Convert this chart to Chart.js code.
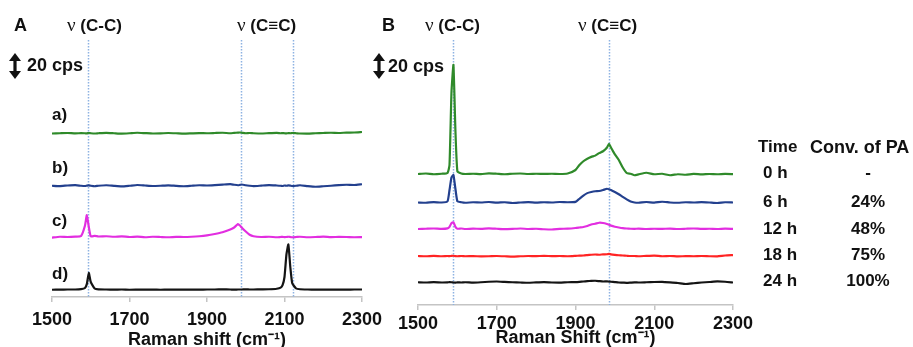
<!DOCTYPE html>
<html>
<head>
<meta charset="utf-8">
<script src="https://cdn.jsdelivr.net/npm/chart.js@4"></script>
<style>
  html, body { margin: 0; padding: 0; background: #fff; }
  #wrap { position: relative; width: 913px; height: 347px; overflow: hidden; font-family: "Liberation Sans", Arial, sans-serif; color: #111; }
  canvas { position: absolute; top: 0; }
  .t { position: absolute; font-weight: bold; font-size: 17px; line-height: 18px; white-space: nowrap; }
  .nu { font-family: "Liberation Serif", serif; font-weight: normal; font-size: 19px; }
  .c { text-align: center; width: 70px; }
  svg { position: absolute; }
</style>
</head>
<body>
<div id="wrap">
  <canvas id="chartA" width="400" height="347" style="left:0"></canvas>
  <canvas id="chartB" width="390" height="347" style="left:385px"></canvas>

  <div class="t" style="left:14px;top:16px;font-size:18px">A</div>
  <div class="t" style="left:67px;top:16px"><span class="nu">ν</span> (C-C)</div>
  <div class="t" style="left:237px;top:16px"><span class="nu">ν</span> (C≡C)</div>
  <svg style="left:9px;top:53px" width="12" height="26"><polygon points="6,0 12,8 7.6,8 7.6,18 12,18 6,26 0,18 4.4,18 4.4,8 0,8" fill="#111"/></svg>
  <div class="t" style="left:27px;top:56px;font-size:18px">20 cps</div>
  <div class="t" style="left:52px;top:106px">a)</div>
  <div class="t" style="left:52px;top:159px">b)</div>
  <div class="t" style="left:52px;top:212px">c)</div>
  <div class="t" style="left:52px;top:265px">d)</div>

  <div class="t" style="left:382px;top:16px;font-size:18px">B</div>
  <div class="t" style="left:425px;top:16px"><span class="nu">ν</span> (C-C)</div>
  <div class="t" style="left:578px;top:16px"><span class="nu">ν</span> (C≡C)</div>
  <svg style="left:373px;top:53px" width="12" height="26"><polygon points="6,0 12,8 7.6,8 7.6,18 12,18 6,26 0,18 4.4,18 4.4,8 0,8" fill="#111"/></svg>
  <div class="t" style="left:388px;top:57px;font-size:18px">20 cps</div>

  <div id="legend"></div>
</div>
<script>
const FONT = '"Liberation Sans", Arial, sans-serif';

// ---- Panel A: reference spectra a) - d), offset in cps ----
const shiftA = [
  1500, 1520, 1540, 1560, 1575, 1585, 1590, 1595, 1600, 1610, 1620,
  1640, 1660, 1680, 1700, 1720, 1740, 1760, 1780, 1800, 1820, 1840,
  1860, 1880, 1900, 1920, 1940, 1960, 1970, 1980, 1985, 1990, 2000,
  2010, 2020, 2040, 2060, 2080, 2090, 2095, 2100, 2105, 2110, 2115,
  2120, 2130, 2140, 2160, 2180, 2200, 2220, 2240, 2260, 2280, 2300,
];
const specA_a = [
  130.8, 131.0, 131.2, 130.9, 131.1, 131.0, 130.9, 131.2, 131.0, 130.8, 131.0,
  131.3, 131.0, 130.7, 131.0, 131.4, 131.1, 130.8, 130.9, 131.2, 131.0, 130.7,
  130.9, 131.1, 131.0, 131.2, 131.4, 131.0, 131.3, 131.5, 131.6, 131.4, 131.0,
  131.2, 131.0, 130.8, 131.1, 131.3, 131.0, 131.1, 131.0, 130.9, 131.1, 131.0,
  131.2, 131.0, 130.8, 130.7, 131.0, 131.2, 131.4, 131.2, 131.5, 131.6, 132.0,
];
const specA_b = [
  89.0, 88.7, 89.2, 89.5, 89.0, 88.8, 89.1, 89.3, 89.0, 88.6, 89.0,
  89.4, 88.9, 88.5, 89.0, 89.6, 89.2, 88.8, 89.0, 89.3, 88.9, 88.6,
  89.0, 89.4, 89.2, 89.5, 89.9, 90.3, 89.8, 89.4, 89.7, 90.0, 89.4,
  89.0, 88.7, 89.1, 89.5, 89.2, 89.0, 88.8, 89.2, 89.0, 89.3, 89.1,
  88.8, 89.0, 89.4, 88.7, 88.2, 88.6, 89.0, 89.5, 89.8, 89.6, 90.2,
];
const specA_c = [
  47.5, 48.2, 48.0, 48.3, 48.8, 57.0, 65.6, 56.0, 48.5, 48.9, 48.4,
  48.6, 48.2, 48.5, 48.0, 48.3, 47.8, 48.2, 48.0, 47.8, 48.1, 48.0,
  48.2, 48.6, 49.3, 50.4, 51.8, 54.0, 55.6, 58.4, 57.2, 55.4, 52.4,
  49.8, 48.6, 48.0, 48.2, 47.8, 48.0, 48.1, 47.9, 48.0, 48.2, 48.0,
  47.8, 48.0, 48.2, 47.8, 48.0, 48.3, 47.9, 48.1, 48.0, 47.8, 47.9,
];
const specA_d = [
  5.8, 5.9, 6.0, 6.0, 6.3, 7.2, 10.5, 19.2, 12.0, 6.8, 6.1,
  6.0, 5.9, 6.0, 5.8, 5.9, 6.0, 5.9, 5.8, 5.9, 6.0, 5.9,
  6.0, 5.9, 6.0, 6.0, 6.1, 6.0, 5.9, 6.0, 6.0, 6.0, 6.1,
  6.0, 6.0, 6.1, 6.2, 6.6, 7.5, 9.5, 16.0, 34.0, 42.0, 24.0,
  11.0, 6.8, 6.2, 6.0, 5.9, 6.0, 5.9, 6.0, 5.9, 6.0, 6.0,
];
const bandsA = [1593, 1989, 2121];

// ---- Panel B: spectra vs reaction time ----
const shiftB = [
  1500, 1520, 1540, 1560, 1575, 1580, 1585, 1590, 1595, 1600, 1610,
  1620, 1640, 1660, 1680, 1700, 1720, 1740, 1760, 1780, 1800, 1820,
  1840, 1860, 1880, 1900, 1910, 1920, 1930, 1940, 1950, 1960, 1970,
  1980, 1985, 1990, 2000, 2010, 2020, 2030, 2040, 2050, 2060, 2080,
  2100, 2120, 2140, 2160, 2180, 2200, 2220, 2240, 2260, 2280, 2300,
];
const specB_0h = [
  104.8, 105.2, 104.6, 105.0, 105.6, 112.0, 170.0, 192.0, 140.0, 107.0, 105.2,
  104.8, 105.0, 104.7, 105.3, 105.0, 104.6, 105.0, 105.2, 104.8, 105.0, 104.9,
  105.0, 104.8, 105.2, 108.0, 112.0, 115.0, 117.0, 118.5, 119.5, 121.5, 123.0,
  126.0, 129.0, 126.0, 120.5, 116.0, 110.0, 105.6, 105.0, 103.8, 104.5, 105.8,
  104.6, 105.0, 103.8, 104.6, 104.2, 104.9, 104.5, 104.8, 104.6, 104.9, 104.7,
];
const specB_6h = [
  82.0, 81.8, 82.3, 82.0, 83.0, 92.0, 102.0, 104.0, 93.0, 83.0, 82.2,
  81.8, 82.2, 82.0, 82.4, 81.9, 82.2, 81.6, 82.0, 82.3, 81.9, 82.2,
  82.0, 82.4, 82.2, 82.5, 85.0, 87.5, 89.5, 90.4, 91.0, 91.2, 92.0,
  93.0, 92.6, 92.0, 90.4, 88.6, 86.5, 84.5, 82.8, 82.0, 81.8, 82.4,
  81.9, 82.6, 82.0, 81.8, 82.2, 82.0, 82.3, 82.0, 81.6, 82.2, 82.0,
];
const specB_12h = [
  60.8, 61.0, 61.2, 60.9, 61.3, 62.5, 65.5, 66.2, 62.5, 61.0, 61.2,
  60.8, 61.1, 60.9, 61.3, 61.0, 60.7, 60.9, 61.2, 60.8, 61.0, 60.6,
  60.4, 60.9, 61.1, 61.6, 62.0, 62.4, 63.2, 64.4, 65.0, 65.8, 65.6,
  64.8, 64.2, 63.5, 62.6, 62.0, 61.5, 61.2, 61.0, 60.9, 61.1, 60.8,
  61.0, 60.9, 61.1, 60.8, 61.0, 61.2, 60.9, 61.0, 60.8, 61.1, 60.9,
];
const specB_18h = [
  39.2, 39.0, 39.3, 39.0, 39.2, 39.1, 39.3, 39.4, 39.1, 39.0, 39.2,
  39.0, 39.1, 38.9, 39.0, 39.2, 39.0, 38.7, 39.0, 39.2, 39.1, 39.3,
  39.1, 39.2, 39.0, 39.3, 39.5, 39.6, 39.9, 40.2, 40.4, 40.2, 40.5,
  40.6, 40.9, 40.5, 40.1, 39.8, 39.6, 39.4, 39.2, 39.2, 39.0, 39.3,
  39.5, 39.0, 39.2, 38.9, 39.1, 39.0, 39.2, 39.0, 38.9, 39.6, 39.9,
];
const specB_24h = [
  18.2, 18.0, 18.3, 18.0, 18.1, 18.3, 18.2, 18.0, 17.9, 18.1, 18.0,
  18.2, 17.9, 18.2, 18.6, 18.8, 18.5, 18.2, 18.0, 17.8, 18.1, 18.3,
  18.0, 17.9, 18.2, 18.3, 18.5, 18.8, 19.1, 19.3, 19.4, 19.1, 18.8,
  18.9, 18.7, 18.6, 18.3, 18.0, 17.9, 17.7, 17.9, 18.1, 18.0, 18.2,
  18.4, 18.5, 18.1, 17.6, 16.8, 17.4, 18.0, 18.4, 18.9, 18.6, 18.0,
];
const bandsB = [1589, 1985];

const times       = ['0 h', '6 h', '12 h', '18 h', '24 h'];
const conversions = ['-', '24%', '48%', '75%', '100%'];
const xTicks      = [1500, 1700, 1900, 2100, 2300];

const GREEN = '#2f8a2a', NAVY = '#23408e', MAGENTA = '#e22ee0', RED = '#ff2424', BLACK = '#141414';

// dotted vertical band markers, placed through the x scale
const bandLines = {
  id: 'bandLines',
  beforeDatasetsDraw(chart, args, opts) {
    const { ctx, chartArea, scales } = chart;
    ctx.save();
    ctx.strokeStyle = '#8db2e2';
    ctx.lineWidth = 1.5;
    ctx.setLineDash([1.5, 1.5]);
    opts.values.forEach(v => {
      const px = Math.round(scales.x.getPixelForValue(v)) + 0.5;
      ctx.beginPath();
      ctx.moveTo(px, chartArea.top);
      ctx.lineTo(px, chartArea.bottom);
      ctx.stroke();
    });
    ctx.restore();
  }
};

function series(xs, ys, color) {
  return {
    data: xs.map((x, i) => ({ x, y: ys[i] })),
    borderColor: color,
    borderWidth: 2.2,
    pointRadius: 0,
    tension: 0.15,
    fill: false,
  };
}

function makeChart(id, datasets, bands, opt) {
  return new Chart(document.getElementById(id), {
    type: 'line',
    data: { datasets },
    plugins: [bandLines],
    options: {
      responsive: false,
      animation: false,
      devicePixelRatio: 1,
      layout: { padding: opt.padding },
      plugins: {
        legend: { display: false },
        tooltip: { enabled: false },
        bandLines: { values: bands },
      },
      scales: {
        x: {
          type: 'linear',
          min: 1500,
          max: 2300,
          afterBuildTicks: s => { s.ticks = xTicks.map(v => ({ value: v })); },
          afterFit: s => { s.height = opt.axisH; },
          ticks: {
            color: '#111',
            padding: opt.tickPad,
            maxRotation: 0,
            font: { family: FONT, size: 18, weight: 'bold', lineHeight: 1 },
            callback: v => String(v),
          },
          grid: { drawOnChartArea: false, drawTicks: true, tickLength: 5, color: '#c4c4c4', lineWidth: 1.5 },
          border: { color: '#c4c4c4', width: 1.5 },
          title: {
            display: true,
            text: opt.title,
            color: '#111',
            font: { family: FONT, size: 18, weight: 'bold', lineHeight: opt.titleLH },
            padding: { top: 0, bottom: 0 },
          },
        },
        y: { display: false, min: 0, max: opt.ymax },
      },
    },
  });
}

makeChart('chartA', [
  series(shiftA, specA_a, GREEN),
  series(shiftA, specA_b, NAVY),
  series(shiftA, specA_c, MAGENTA),
  series(shiftA, specA_d, BLACK),
], bandsA, {
  padding: { left: 52, right: 38, top: 40, bottom: 0 },
  axisH: 50, tickPad: 9, titleLH: 0.8, ymax: 205.6,
  title: 'Raman shift (cm⁻¹)',
});

makeChart('chartB', [
  series(shiftB, specB_0h, GREEN),
  series(shiftB, specB_6h, NAVY),
  series(shiftB, specB_12h, MAGENTA),
  series(shiftB, specB_18h, RED),
  series(shiftB, specB_24h, BLACK),
], bandsB, {
  padding: { left: 33, right: 42, top: 40, bottom: 0 },
  axisH: 42, tickPad: 5, titleLH: 1.05, ymax: 212,
  title: 'Raman Shift (cm⁻¹)',
});

// time / conversion table on the right
const legend = document.getElementById('legend');
const rowY = [173, 202, 229, 255, 281];
let html = '<div class="t" style="left:758px;top:138px">Time</div>' +
           '<div class="t" style="left:810px;top:138px;font-size:18px">Conv. of PA</div>';
times.forEach((t, i) => {
  html += `<div class="t" style="left:763px;top:${rowY[i] - 9}px">${t}</div>`;
  html += `<div class="t c" style="left:833px;top:${rowY[i] - 9}px">${conversions[i]}</div>`;
});
legend.innerHTML = html;
</script>
</body>
</html>
